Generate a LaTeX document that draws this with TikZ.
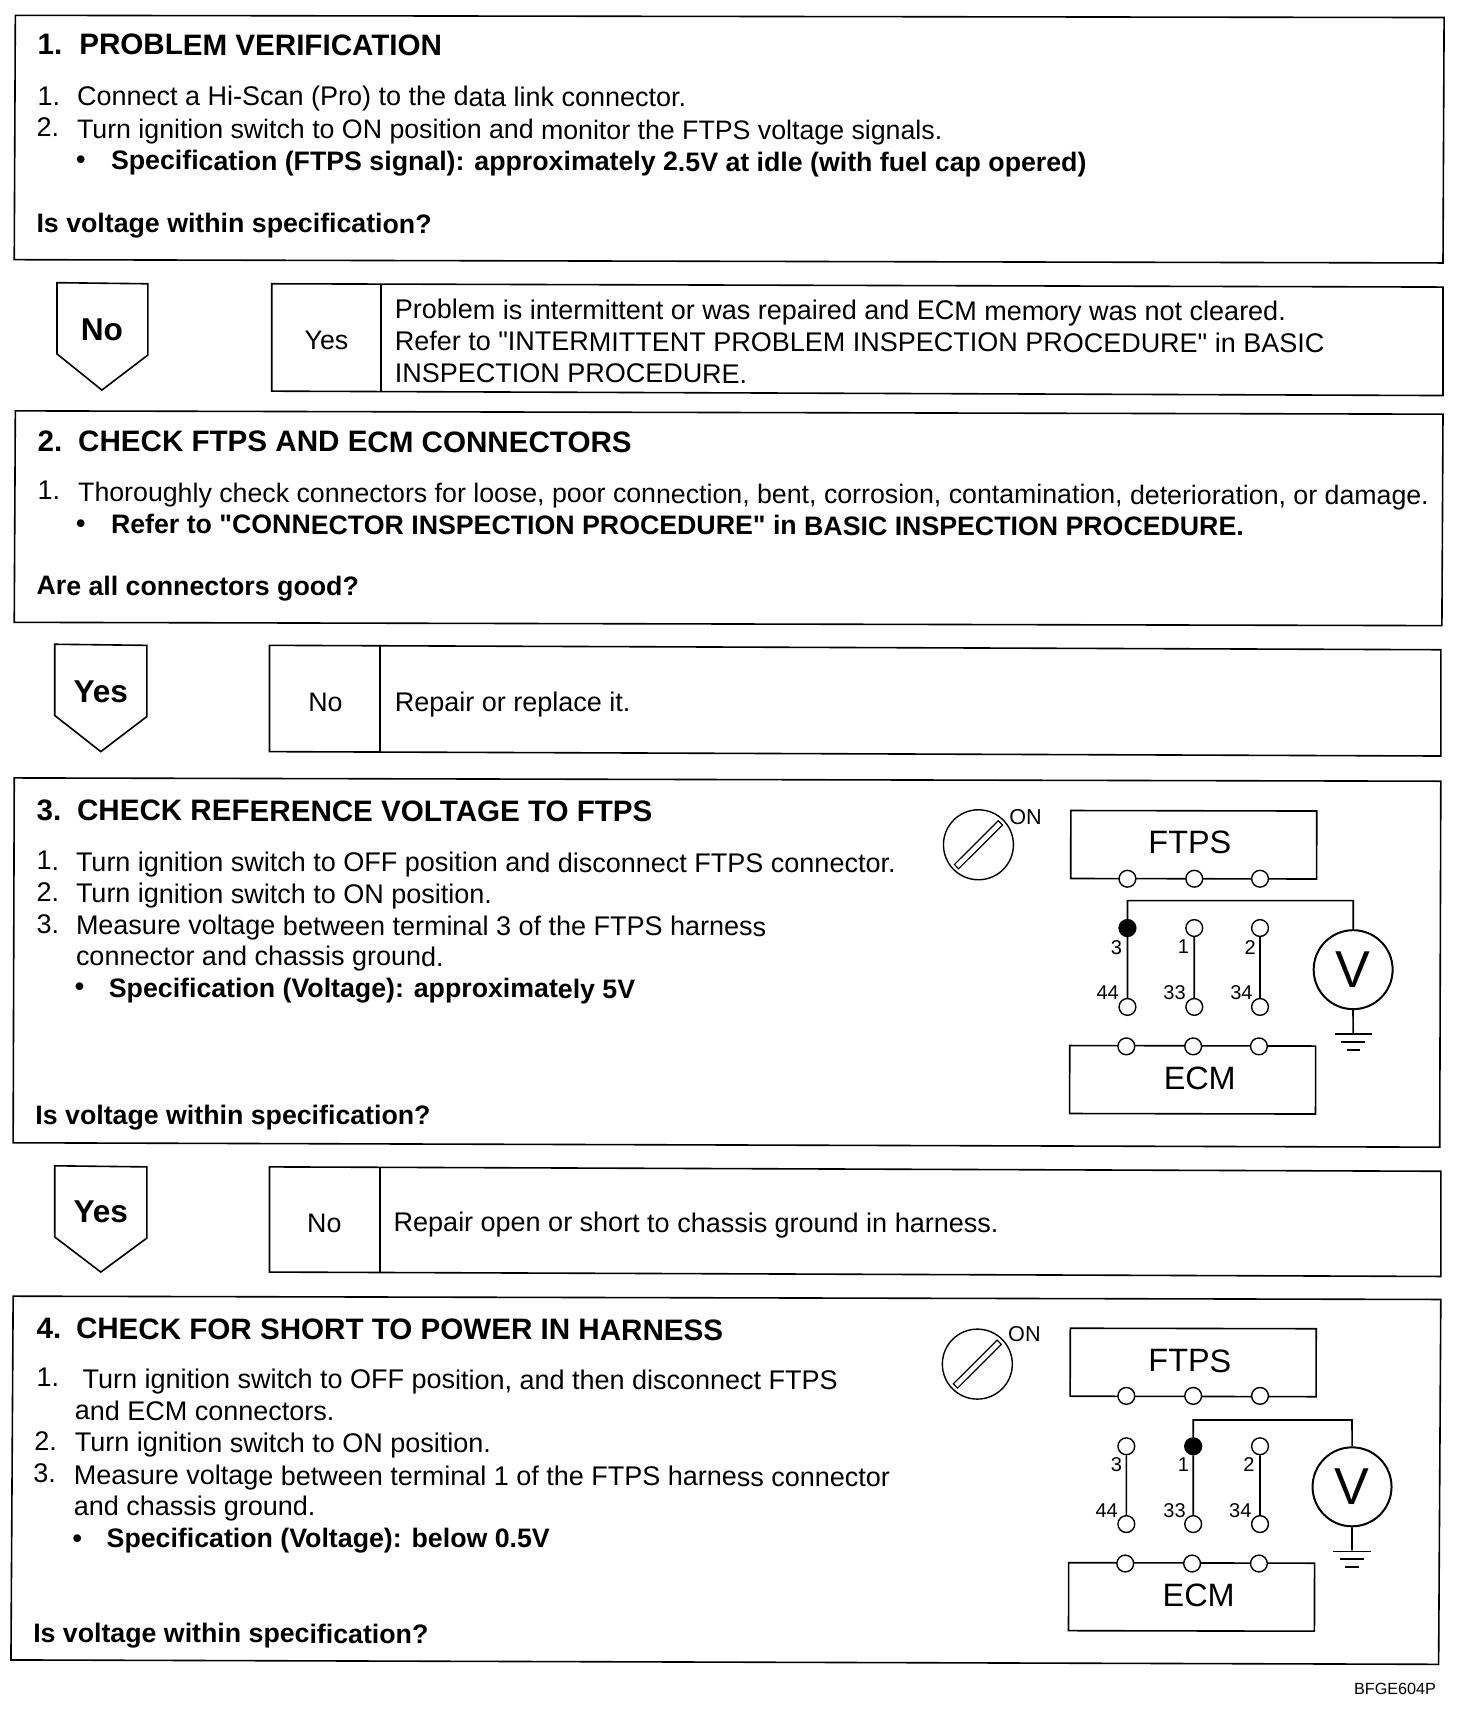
\documentclass[tikz,border=0pt]{standalone}
\usepackage{fontspec}
\setmainfont{Liberation Sans}[Ligatures=TeXOff]
\usetikzlibrary{positioning}
\begin{document}
\begin{tikzpicture}[x=0.548pt,y=-0.548pt,
    every node/.style={rotate=-0.12,inner sep=0pt},
    bodytxt/.style={anchor=base west,font=\fontsize{13.5}{15}\selectfont},
    tighttxt/.style={anchor=base west,font=\fontsize{13.37}{15}\selectfont},
    boldtxt/.style={anchor=base west,font=\fontsize{13.37}{15}\selectfont\bfseries},
    headtxt/.style={anchor=base west,font=\fontsize{14.8}{16}\selectfont\bfseries},
    arrowtxt/.style={font=\fontsize{15.8}{18}\selectfont\bfseries},
    paneltxt/.style={font=\fontsize{13.4}{15}\selectfont},
    panel/.style={draw,line width=0.8pt,line join=miter},
    compbox/.style={draw,line width=0.8pt,minimum width=123pt,minimum height=34pt},
    complabel/.style={font=\fontsize{16.2}{18}\selectfont},
    term/.style={draw,circle,fill=white,line width=0.7pt,minimum size=8.4pt},
    probe/.style={draw,circle,fill=black,line width=0.7pt,minimum size=8.4pt},
    pinlabel/.style={font=\fontsize{10}{11}\selectfont},
    onlabel/.style={font=\fontsize{10.8}{12}\selectfont},
    meter/.style={draw,circle,line width=1pt,minimum size=39.5pt,font=\fontsize{26}{28}\selectfont},
    keydial/.style={draw,circle,line width=0.7pt,minimum size=35pt},
    keyslot/.style={draw,line width=0.6pt,minimum width=31pt,minimum height=3pt,rotate=45},
    wire/.style={line width=0.85pt}]
  \useasboundingbox (0,0) rectangle (1343,1568);

  % Step 1
  \draw[panel] (14,14) -- (1318,16) -- (1317,240) -- (13,237) -- cycle;
  \node[headtxt] (numA) at (34,50) {1.};
  \node[headtxt] (headA) at (72,50) {PROBLEM VERIFICATION};
  \node[bodytxt] (numAa) at (34,96) {1.};
  \node[bodytxt] (lineAa) at (70,96) {Connect a Hi-Scan (Pro) to the data link connector.};
  \node[bodytxt] (numAb) at (33,125) {2.};
  \node[tighttxt] (lineAb) at (70,126) {Turn ignition switch to ON position and monitor the FTPS voltage signals.};
  \node[boldtxt] (dotAc) at (69,154) {•};
  \node[boldtxt] (lineAc) at (101,155) {Specification (FTPS signal): approximately 2.5V at idle (with fuel cap opered)};
  \node[boldtxt] (askA) at (33,212) {Is voltage within specification?};

  % Branch 1
  \draw[panel] (52,258) -- (135,259) -- (135,324) -- (93,356) -- (52,323) -- cycle;
  \node[arrowtxt] (goA) at (93,301) {No};
  \draw[panel] (248,259) -- (1317,262) -- (1317,361) -- (248,357) -- cycle;
  \draw[panel] (348,260) -- (348,358);
  \node[paneltxt] (offA) at (298,311) {Yes};
  \node[bodytxt] (resAa) at (360,291) {Problem is intermittent or was repaired and ECM memory was not cleared.};
  \node[bodytxt] (resAb) at (360,320) {Refer to "INTERMITTENT PROBLEM INSPECTION PROCEDURE" in BASIC};
  \node[bodytxt] (resAc) at (360,349) {INSPECTION PROCEDURE.};

  % Step 2
  \draw[panel] (14,375) -- (1317,378) -- (1316,571) -- (13,568) -- cycle;
  \node[headtxt] (numB) at (34,412) {2.};
  \node[headtxt] (headB) at (71,412) {CHECK FTPS AND ECM CONNECTORS};
  \node[bodytxt] (numBa) at (34,456) {1.};
  \node[tighttxt] (lineBa) at (71,458) {Thoroughly check connectors for loose, poor connection, bent, corrosion, contamination, deterioration, or damage.};
  \node[boldtxt] (dotBb) at (69,486) {•};
  \node[boldtxt] (lineBb) at (101,487) {Refer to "CONNECTOR INSPECTION PROCEDURE" in BASIC INSPECTION PROCEDURE.};
  \node[boldtxt] (askB) at (33,543) {Are all connectors good?};

  % Branch 2
  \draw[panel] (50,588) -- (134,589) -- (134,654) -- (92,686) -- (50,653) -- cycle;
  \node[arrowtxt] (goB) at (92,631) {Yes};
  \draw[panel] (246,589) -- (1315,593) -- (1315,690) -- (246,686) -- cycle;
  \draw[panel] (347,590) -- (347,687);
  \node[paneltxt] (offB) at (297,641) {No};
  \node[bodytxt] (resB) at (360,649) {Repair or replace it.};

  % Step 3
  \draw[panel] (13,710) -- (1315,713) -- (1314,1047) -- (12,1043) -- cycle;
  \node[headtxt] (numC) at (33,749) {3.};
  \node[headtxt] (headC) at (70,749) {CHECK REFERENCE VOLTAGE TO FTPS};
  \node[bodytxt] (numCa) at (33,794) {1.};
  \node[bodytxt] (lineCa) at (69,795) {Turn ignition switch to OFF position and disconnect FTPS connector.};
  \node[bodytxt] (numCb) at (33,823) {2.};
  \node[bodytxt] (lineCb) at (69,824) {Turn ignition switch to ON position.};
  \node[bodytxt] (numCc) at (33,852) {3.};
  \node[bodytxt] (lineCc) at (69,853) {Measure voltage between terminal 3 of the FTPS harness};
  \node[bodytxt] (lineCd) at (69,881) {connector and chassis ground.};
  \node[boldtxt] (dotCe) at (68,909) {•};
  \node[boldtxt] (lineCe) at (99,910) {Specification (Voltage): approximately 5V};
  \node[boldtxt] (askC) at (32,1026) {Is voltage within specification?};

  % Circuit of step 3
  \node[keydial] (dialC) at (893,771) {};
  \node[keyslot] (slotC) at (893,771) {};
  \node[onlabel] (keyC) at (936,746) {ON};
  \node[compbox] (ftpsC) at (1089.5,771) {};
  \node[complabel] (ftpsCt) at (1086,769) {FTPS};
  \node[compbox] (ecmC) at (1088.5,985.5) {};
  \node[complabel] (ecmCt) at (1095,984) {ECM};
  \foreach \nm/\x in {a/1029,b/1090,c/1150} {
    \node[term] (topC\nm) at (\x,802) {};
    \node[term] (lowC\nm) at (\x,919) {};
    \node[term] (botC\nm) at (\x-1,955) {};
  }
  \node[probe] (upCa) at (1029,847) {};
  \node[term] (upCb) at (1090,847) {};
  \node[term] (upCc) at (1150,847) {};
  \foreach \nm in {a,b,c}
    \draw[wire] (upC\nm) -- (lowC\nm);
  \node[meter] (volC) at (1235,885) {V};
  \draw[wire] (upCa.north) |- (1235,822) -- (volC.north);
  \coordinate (gndC) at (1235,943);
  \draw[wire] (volC.south) -- (gndC);
  \draw[wire] (1218,944) -- (1252,944) (1224,951) -- (1246,951) (1229,958) -- (1241,958);
  \foreach \nm/\t/\x/\y in {pa/3/1019/865,pb/1/1080/864,pc/2/1141/865,pd/44/1011/906,pe/33/1072/906,pf/34/1133/906}
    \node[pinlabel] (\nm C) at (\x,\y) {\t};

  % Branch 3
  \draw[panel] (50,1064) -- (134,1065) -- (134,1130) -- (92,1161) -- (50,1129) -- cycle;
  \node[arrowtxt] (goC) at (92,1106) {Yes};
  \draw[panel] (246,1065) -- (1315,1069) -- (1315,1165) -- (246,1161) -- cycle;
  \draw[panel] (347,1066) -- (347,1162);
  \node[paneltxt] (offC) at (296,1117) {No};
  \node[bodytxt] (resC) at (359,1124) {Repair open or short to chassis ground in harness.};

  % Step 4
  \draw[panel] (12,1183) -- (1315,1186) -- (1313,1519) -- (10,1515) -- cycle;
  \node[headtxt] (numD) at (33,1222) {4.};
  \node[headtxt] (headD) at (69,1222) {CHECK FOR SHORT TO POWER IN HARNESS};
  \node[bodytxt] (numDa) at (33,1265) {1.};
  \node[bodytxt] (lineDa) at (75,1267) {Turn ignition switch to OFF position, and then disconnect FTPS};
  \node[bodytxt] (lineDb) at (68,1296) {and ECM connectors.};
  \node[bodytxt] (numDc) at (31,1324) {2.};
  \node[bodytxt] (lineDc) at (68,1325) {Turn ignition switch to ON position.};
  \node[bodytxt] (numDd) at (30,1353) {3.};
  \node[bodytxt] (lineDd) at (67,1355) {Measure voltage between terminal 1 of the FTPS harness connector};
  \node[bodytxt] (lineDe) at (67,1383) {and chassis ground.};
  \node[boldtxt] (dotDf) at (66,1412) {•};
  \node[boldtxt] (lineDf) at (97,1412) {Specification (Voltage): below 0.5V};
  \node[boldtxt] (askD) at (30,1499) {Is voltage within specification?};

  % Circuit of step 4
  \node[keydial] (dialD) at (892,1245) {};
  \node[keyslot] (slotD) at (892,1245) {};
  \node[onlabel] (keyD) at (935,1218) {ON};
  \node[compbox] (ftpsD) at (1089,1243.5) {};
  \node[complabel] (ftpsDt) at (1086,1242) {FTPS};
  \node[compbox] (ecmD) at (1087.5,1457.5) {};
  \node[complabel] (ecmDt) at (1094,1456) {ECM};
  \foreach \nm/\x in {a/1028,b/1089,c/1150} {
    \node[term] (topD\nm) at (\x,1274) {};
    \node[term] (lowD\nm) at (\x,1391) {};
    \node[term] (botD\nm) at (\x-1,1427) {};
  }
  \node[term] (upDa) at (1028,1320) {};
  \node[probe] (upDb) at (1089,1320) {};
  \node[term] (upDc) at (1150,1320) {};
  \foreach \nm in {a,b,c}
    \draw[wire] (upD\nm) -- (lowD\nm);
  \node[meter] (volD) at (1234,1357) {V};
  \draw[wire] (upDb.north) |- (1234,1296) -- (volD.north);
  \coordinate (gndD) at (1234,1415);
  \draw[wire] (volD.south) -- (gndD);
  \draw[wire] (1217,1416) -- (1251,1416) (1223,1423) -- (1245,1423) (1228,1430) -- (1240,1430);
  \foreach \nm/\t/\x/\y in {pa/3/1019/1337,pb/1/1080/1337,pc/2/1140/1337,pd/44/1010/1379,pe/33/1072/1379,pf/34/1132/1379}
    \node[pinlabel] (\nm D) at (\x,\y) {\t};

  \node[anchor=base east,font=\fontsize{8.1}{9}\selectfont] (codeE) at (1311,1547) {BFGE604P};
\end{tikzpicture}
\end{document}
